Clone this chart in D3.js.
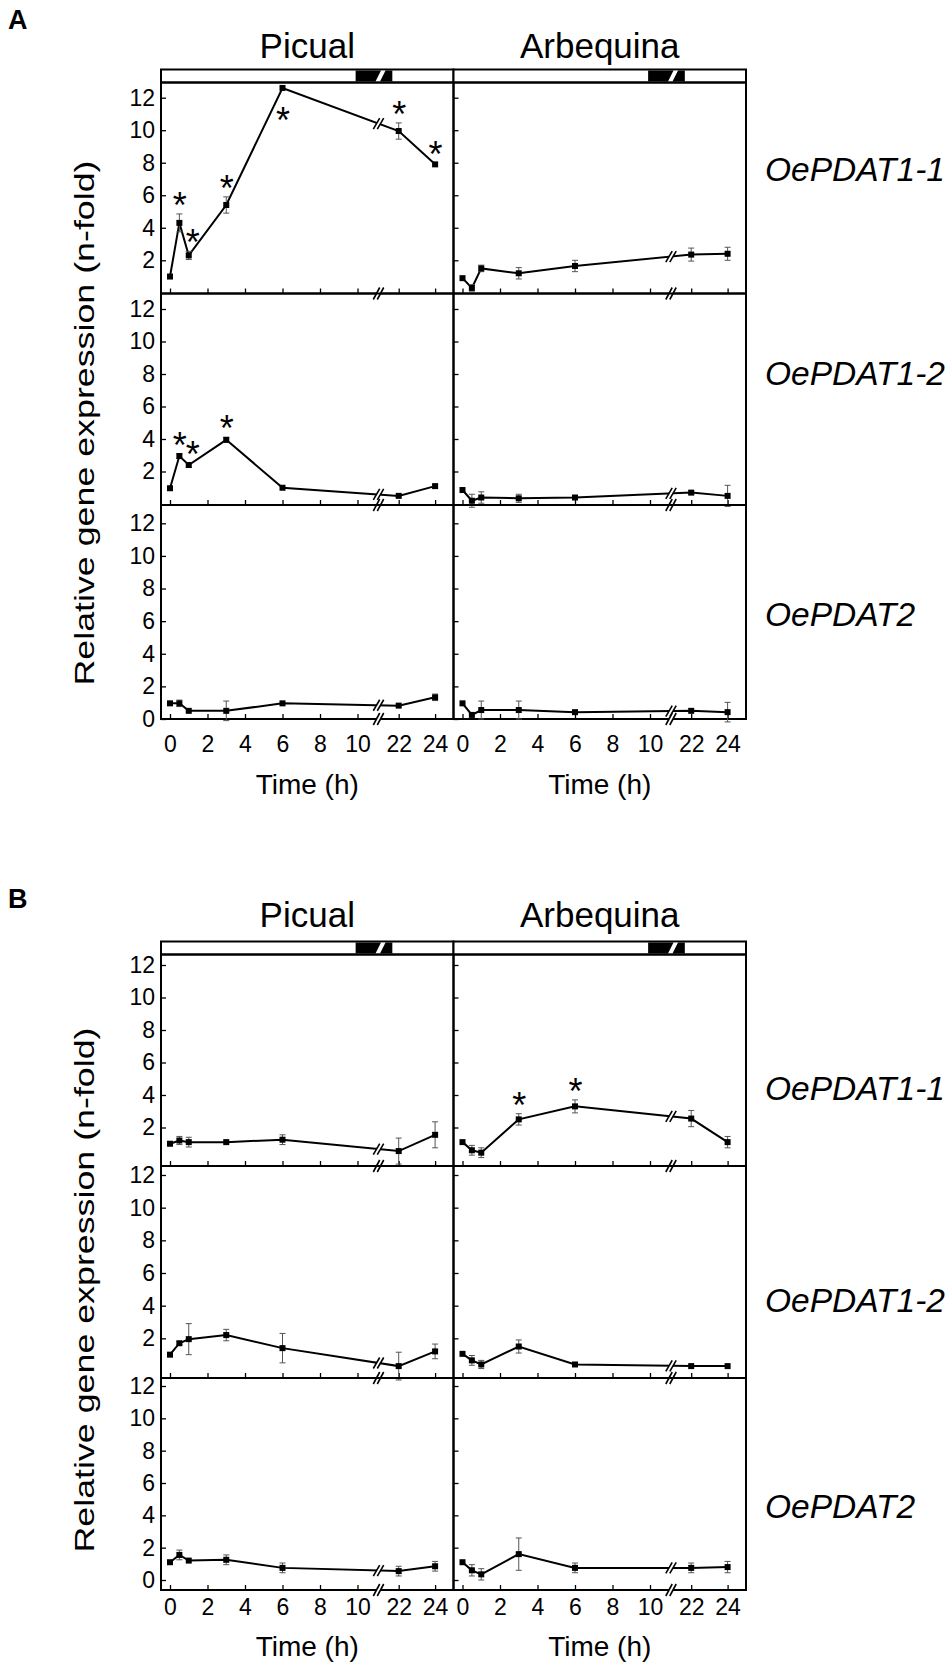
<!DOCTYPE html>
<html><head><meta charset="utf-8">
<script src="https://cdnjs.cloudflare.com/ajax/libs/d3/7.8.5/d3.min.js"></script>
<style>body{margin:0;background:#fff}svg text{font-family:"Liberation Sans",Arial,sans-serif;fill:#000}</style>
</head><body><svg id="c" width="950" height="1665"></svg>
<script>
// ---------- data ----------
const times = [0, 0.5, 1, 3, 6, 22, 24];
const xTickValues = [0, 2, 4, 6, 8, 10, 22, 24];
const yTickValues = [0, 2, 4, 6, 8, 10, 12];
const cultivars = ["Picual", "Arbequina"];
const genes = ["OePDAT1-1", "OePDAT1-2", "OePDAT2"];
const sectionLabels = ["A", "B"];
const darkPeriod = [9.9, 21.65];
const timeTitle = "Time (h)";
const yTitle = "Relative gene expression (n-fold)";

// Section A
const A_PDAT11_Picual = [1.0, 4.3, 2.3, 5.4, 12.6, 9.95, 7.9];
const A_PDAT11_Picual_err = [0.05, 0.55, 0.25, 0.5, 0.05, 0.5, 0.1];
const A_PDAT11_Picual_sig = [0, 1, 1, 1, -1, 1, 1];
const A_PDAT11_Arbequina = [0.9, 0.3, 1.5, 1.2, 1.65, 2.35, 2.4];
const A_PDAT11_Arbequina_err = [0.05, 0.2, 0.2, 0.35, 0.35, 0.4, 0.4];
const A_PDAT12_Picual = [0.97, 2.95, 2.4, 3.95, 1.0, 0.5, 1.1];
const A_PDAT12_Picual_err = [0.05, 0.15, 0.15, 0.15, 0.05, 0.05, 0.1];
const A_PDAT12_Picual_sig = [0, 1, 1, 1, 0, 0, 0];
const A_PDAT12_Arbequina = [0.86, 0.2, 0.4, 0.35, 0.4, 0.7, 0.5];
const A_PDAT12_Arbequina_err = [0.05, 0.4, 0.35, 0.25, 0.05, 0.1, 0.65];
const A_PDAT2_Picual = [0.96, 0.96, 0.5, 0.5, 0.96, 0.82, 1.33];
const A_PDAT2_Picual_err = [0.05, 0.2, 0.05, 0.6, 0.05, 0.05, 0.2];
const A_PDAT2_Arbequina = [0.96, 0.25, 0.55, 0.55, 0.42, 0.5, 0.42];
const A_PDAT2_Arbequina_err = [0.05, 0.05, 0.55, 0.55, 0.05, 0.05, 0.6];

// Section B
const B_PDAT11_Picual = [1.0, 1.2, 1.1, 1.1, 1.25, 0.55, 1.55];
const B_PDAT11_Picual_err = [0.05, 0.25, 0.3, 0.05, 0.3, 0.8, 0.8];
const B_PDAT11_Arbequina = [1.1, 0.6, 0.45, 2.5, 3.3, 2.55, 1.1];
const B_PDAT11_Arbequina_err = [0.05, 0.3, 0.3, 0.35, 0.4, 0.5, 0.35];
const B_PDAT11_Arbequina_sig = [0, 0, 0, 1, 1, 0, 0];
const B_PDAT12_Picual = [1.0, 1.7, 1.95, 2.2, 1.4, 0.3, 1.2];
const B_PDAT12_Picual_err = [0.05, 0.1, 0.95, 0.35, 0.9, 0.85, 0.45];
const B_PDAT12_Arbequina = [1.05, 0.65, 0.4, 1.5, 0.4, 0.3, 0.3];
const B_PDAT12_Arbequina_err = [0.05, 0.3, 0.25, 0.4, 0.05, 0.05, 0.05];
const B_PDAT2_Picual = [1.1, 1.55, 1.2, 1.25, 0.75, 0.55, 0.85];
const B_PDAT2_Picual_err = [0.05, 0.3, 0.05, 0.3, 0.3, 0.3, 0.3];
const B_PDAT2_Arbequina = [1.1, 0.6, 0.35, 1.6, 0.75, 0.75, 0.8];
const B_PDAT2_Arbequina_err = [0.05, 0.35, 0.35, 1.0, 0.3, 0.3, 0.35];

const none = [0, 0, 0, 0, 0, 0, 0];
const seriesTable = {
  A: [
    [{v: A_PDAT11_Picual, e: A_PDAT11_Picual_err, s: A_PDAT11_Picual_sig},
     {v: A_PDAT11_Arbequina, e: A_PDAT11_Arbequina_err, s: none}],
    [{v: A_PDAT12_Picual, e: A_PDAT12_Picual_err, s: A_PDAT12_Picual_sig},
     {v: A_PDAT12_Arbequina, e: A_PDAT12_Arbequina_err, s: none}],
    [{v: A_PDAT2_Picual, e: A_PDAT2_Picual_err, s: none},
     {v: A_PDAT2_Arbequina, e: A_PDAT2_Arbequina_err, s: none}]
  ],
  B: [
    [{v: B_PDAT11_Picual, e: B_PDAT11_Picual_err, s: none},
     {v: B_PDAT11_Arbequina, e: B_PDAT11_Arbequina_err, s: B_PDAT11_Arbequina_sig}],
    [{v: B_PDAT12_Picual, e: B_PDAT12_Picual_err, s: none},
     {v: B_PDAT12_Arbequina, e: B_PDAT12_Arbequina_err, s: none}],
    [{v: B_PDAT2_Picual, e: B_PDAT2_Picual_err, s: none},
     {v: B_PDAT2_Arbequina, e: B_PDAT2_Arbequina_err, s: none}]
  ]
};

// ---------- layout ----------
const colLeft = [161, 453.5];
const colW = 292.5;
const layout = {
  A: {label: [8, 29], title: 58, barTop: 69.5, barBot: 82.5, yTitle: 423,
      gene: [169, 373, 614], time: 794, tickPad: 17,
      panels: [{top: 82.5, bot: 293.5, y0: 292.8, y12: 97.7},
               {top: 293.5, bot: 505, y0: 504, y12: 309},
               {top: 505, bot: 719, y0: 719, y12: 523.3}]},
  B: {label: [8, 908], title: 927, barTop: 941.5, barBot: 954.5, yTitle: 1290,
      gene: [1088, 1300, 1506], time: 1656, tickPad: 9,
      panels: [{top: 954.5, bot: 1166, y0: 1160, y12: 965},
               {top: 1166, bot: 1378, y0: 1371, y12: 1175},
               {top: 1378, bot: 1590, y0: 1580, y12: 1386}]}
};

const svg = d3.select("#c");
const FONT = '"Liberation Sans", Arial, sans-serif';

function xScaleFor(L) {
  return d3.scaleLinear().domain([0, 11, 21, 24]).range([L + 9, L + 215.25, L + 219.5, L + 274.1]);
}

function breakMark(g, bx, by, h) {
  const w = 3.2, gap = 4;
  g.append("polygon")
    .attr("points", [[bx - gap/2 - w, by + h], [bx + gap/2 - w, by + h], [bx + gap/2 + w, by - h], [bx - gap/2 + w, by - h]].map(p => p.join(",")).join(" "))
    .attr("fill", "#fff");
  [-gap/2, gap/2].forEach(o => {
    g.append("line").attr("x1", bx + o - w).attr("y1", by + h).attr("x2", bx + o + w).attr("y2", by - h)
      .attr("stroke", "#000").attr("stroke-width", 1.6);
  });
}

sectionLabels.forEach(sec => {
  const lay = layout[sec];
  svg.append("text").attr("x", lay.label[0]).attr("y", lay.label[1]).attr("font-size", 27)
    .attr("font-weight", "bold").text(sec);
  svg.append("text").attr("transform", `translate(84,${lay.yTitle}) rotate(-90)`)
    .attr("text-anchor", "middle").attr("dominant-baseline", "central").attr("font-size", 28)
    .attr("textLength", 525).attr("lengthAdjust", "spacingAndGlyphs").text(yTitle);

  cultivars.forEach((cv, ci) => {
    const L = colLeft[ci];
    const x = xScaleFor(L);
    const bx = L + 217.5;
    svg.append("text").attr("x", L + colW / 2).attr("y", lay.title).attr("text-anchor", "middle")
      .attr("font-size", 35).text(cv);
    const bar = svg.append("g");
    bar.append("rect").attr("x", L).attr("y", lay.barTop).attr("width", colW).attr("height", lay.barBot - lay.barTop)
      .attr("fill", "#fff").attr("stroke", "#000").attr("stroke-width", 2);
    bar.append("rect").attr("x", x(darkPeriod[0])).attr("y", lay.barTop + 1)
      .attr("width", x(darkPeriod[1]) - x(darkPeriod[0])).attr("height", lay.barBot - lay.barTop - 2).attr("fill", "#000");
    bar.append("polygon").attr("points", [[L + 214.5, lay.barBot - 1], [L + 219, lay.barBot - 1], [L + 224.5, lay.barTop + 1], [L + 220, lay.barTop + 1]]
      .map(p => p.join(",")).join(" ")).attr("fill", "#fff");
    svg.append("text").attr("x", L + colW / 2).attr("y", lay.time).attr("text-anchor", "middle")
      .attr("font-size", 28).text(timeTitle);

    lay.panels.forEach((p, gi) => {
      const y = d3.scaleLinear().domain([0, 12]).range([p.y0, p.y12]);
      const ser = seriesTable[sec][gi][ci];
      const g = svg.append("g");
      g.append("rect").attr("x", L).attr("y", p.top).attr("width", colW).attr("height", p.bot - p.top)
        .attr("fill", "none").attr("stroke", "#000").attr("stroke-width", 2);
      const yv = yTickValues.filter(t => gi === 2 ? true : t > 0);
      const yAxis = d3.axisLeft(y).tickValues(yv).tickSize(-5).tickPadding(6)
        .tickFormat(ci === 0 ? d3.format("d") : () => "");
      const ya = g.append("g").attr("transform", `translate(${L},0)`).call(yAxis);
      ya.select(".domain").remove();
      ya.selectAll("line").attr("stroke-width", 1.3);
      ya.selectAll("text").attr("font-size", 23).attr("font-family", FONT).attr("fill", "#000");
      const xAxis = d3.axisBottom(x).tickValues(xTickValues).tickSize(-5).tickPadding(lay.tickPad)
        .tickFormat(gi === 2 ? d3.format("d") : () => "");
      const xa = g.append("g").attr("transform", `translate(0,${p.bot})`).call(xAxis);
      xa.select(".domain").remove();
      xa.selectAll("line").attr("stroke-width", 1.3);
      xa.selectAll("text").attr("font-size", 23).attr("font-family", FONT).attr("fill", "#000");
      breakMark(g, bx, p.bot, 6);

      if (ci === 1) {
        svg.append("text").attr("x", 765).attr("y", lay.gene[gi]).attr("dominant-baseline", "central")
          .attr("font-size", 33.5).attr("font-style", "italic").text(genes[gi]);
      }

      const pts = times.map((t, i) => ({x: x(t), y: y(ser.v[i]), v: ser.v[i], e: ser.e[i], s: ser.s[i]}));
      g.append("path").datum(pts).attr("d", d3.line().x(d => d.x).y(d => d.y))
        .attr("fill", "none").attr("stroke", "#000").attr("stroke-width", 2);
      const a = pts[4], b = pts[5];
      const by = a.y + (b.y - a.y) * (bx - a.x) / (b.x - a.x);
      breakMark(g, bx, by, 5.5);
      pts.forEach(d => {
        if (d.e <= 0.06) return;
        const y1 = y(d.v + d.e), y2 = y(d.v - d.e);
        g.append("line").attr("x1", d.x).attr("x2", d.x).attr("y1", y1).attr("y2", y2).attr("stroke", "#555").attr("stroke-width", 1);
        [y1, y2].forEach(yy => g.append("line").attr("x1", d.x - 3).attr("x2", d.x + 3).attr("y1", yy).attr("y2", yy)
          .attr("stroke", "#555").attr("stroke-width", 1));
      });
      g.selectAll("rect.m").data(pts).enter().append("rect").attr("class", "m")
        .attr("x", d => d.x - 3).attr("y", d => d.y - 3).attr("width", 6).attr("height", 6).attr("fill", "#000");
      pts.forEach((d, i) => {
        if (!d.s) return;
        const crowded = i > 0 && pts[i - 1].s && (d.x - pts[i - 1].x) < 15;
        const cy = d.s > 0 ? y(d.v + d.e) - 16 : y(d.v - d.e) + 24;
        g.append("text").attr("x", d.x + (crowded ? 4 : 0.5)).attr("y", cy + 20).attr("text-anchor", "middle")
          .attr("font-size", 36).text("*");
      });
    });
  });
});
</script></body></html>
